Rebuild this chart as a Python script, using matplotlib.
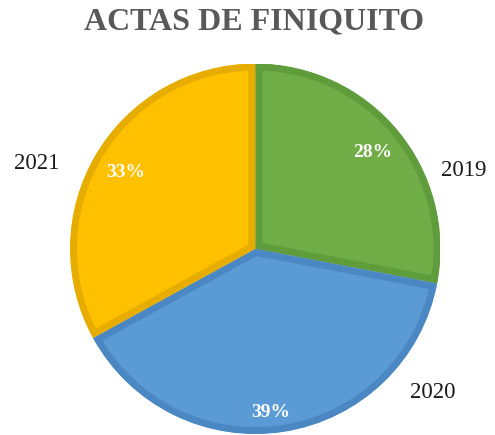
import numpy as np
import matplotlib
matplotlib.use("Agg")
import matplotlib.pyplot as plt

# ---- data ----
title = "ACTAS DE FINIQUITO"
categories = ["2019", "2020", "2021"]
values = [28, 39, 33]
fill_colors = ["#70AD47", "#5B9BD5", "#FFC000"]
edge_colors = ["#5F9C3B", "#4B88C3", "#E6AD00"]

# ---- layout (pixels of a 495x435 canvas) ----
W, H = 495, 435
cx, cy, R = 255, 249, 185
pct_dist = [0.82, 0.885, 0.815]
pct_shift = [0.0, -3.7, 0.0]          # degrees relative to slice middle
cat_dist = [1.205, 1.23, 1.27]
cat_shift = [-18.9, 42.0, 9.2]

plt.rcParams["font.family"] = ["Liberation Serif", "DejaVu Serif"]
fig = plt.figure(figsize=((W + 0.5) / 100, (H + 0.5) / 100), dpi=100)
ax = fig.add_axes([(cx - R) / W, (H - cy - R) / H, 2 * R / W, 2 * R / H])

wedges, _ = ax.pie(values, colors=fill_colors, startangle=90, counterclock=False,
                   radius=1.0, wedgeprops=dict(linewidth=10.0))
for w, ec in zip(wedges, edge_colors):
    w.set_edgecolor(ec)
    w.set_clip_on(True)
    w.set_clip_path(w)      # keep only the inner half of the stroke
    w.set_joinstyle("miter")

ax.set_xlim(-1, 1)
ax.set_ylim(-1, 1)
ax.set_aspect("equal")
ax.axis("off")

total = sum(values)
start = 90.0
for i, v in enumerate(values):
    span = 360.0 * v / total
    mid = start - span / 2
    start -= span
    a = np.deg2rad(mid + pct_shift[i])
    ax.text(pct_dist[i] * np.cos(a), pct_dist[i] * np.sin(a), f"{round(100 * v / total)}%",
            ha="center", va="center", color="white", fontsize=14, fontweight="bold")
    b = np.deg2rad(mid + cat_shift[i])
    ax.text(cat_dist[i] * np.cos(b), cat_dist[i] * np.sin(b), categories[i],
            ha="center", va="center", color="#1a1a1a", fontsize=16.5, clip_on=False)

fig.text(253.5 / W, 1 - 22 / H, title, ha="center", va="center", color="#595959",
         fontsize=23, fontweight="bold")

fig.savefig("out.png", dpi=100)
